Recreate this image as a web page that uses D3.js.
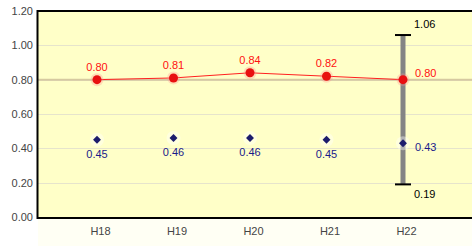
<!DOCTYPE html>
<html><head><meta charset="utf-8">
<script src="https://cdn.jsdelivr.net/npm/d3@7"></script>
<style>html,body{margin:0;padding:0;background:#fff;overflow:hidden}svg{display:block}text{font-family:Arial,"Liberation Sans",sans-serif}</style>
</head><body>
<script>
const categories = ["H18","H19","H20","H21","H22"];
const redValues = [0.80,0.81,0.84,0.82,0.80];
const blueValues = [0.45,0.46,0.46,0.45,0.43];
const yTicks = [0,0.2,0.4,0.6,0.8,1.0,1.2];
const rangeMax = 1.06, rangeMin = 0.19, rangeCat = "H22";
const refLine = 0.80;

const W=472,H=246;
const svg=d3.select("body").append("svg").attr("width",W).attr("height",H);
const x=d3.scalePoint().domain(categories).range([97,403]);
const y=d3.scaleLinear().domain([0,1.2]).range([217,11]);

svg.append("rect").attr("x",38).attr("y",219).attr("width",W-38).attr("height",H-219).attr("fill","#fffff4");
svg.append("rect").attr("x",38).attr("y",11).attr("width",W-38).attr("height",206).attr("fill","#ffffc8");

// gridlines
svg.selectAll("line.grid").data(yTicks.filter(d=>d>0&&d<1.2)).enter().append("line")
 .attr("x1",38).attr("x2",W).attr("y1",d=>Math.round(y(d))+0.5).attr("y2",d=>Math.round(y(d))+0.5)
 .attr("stroke","#e6e4cc").attr("stroke-width",1);
svg.append("line").attr("x1",38).attr("x2",W).attr("y1",y(refLine)).attr("y2",y(refLine))
 .attr("stroke","#d6c9a0").attr("stroke-width",2);

// y axis
const ya=svg.append("g").attr("transform","translate(37,0)")
 .call(d3.axisLeft(y).tickValues(yTicks).tickFormat(d3.format(".2f")).tickSize(0).tickPadding(4));
ya.select(".domain").remove();
ya.selectAll("text").attr("font-size",11).attr("fill","#444").attr("font-family","Arial,'Liberation Sans',sans-serif");

// x labels
const xa=svg.append("g").attr("transform","translate(3,219)")
 .call(d3.axisBottom(x).tickSize(0).tickPadding(8));
xa.select(".domain").remove();
xa.selectAll("text").attr("font-size",11).attr("fill","#444").attr("font-family","Arial,'Liberation Sans',sans-serif");

// frame
svg.append("line").attr("x1",37).attr("x2",W).attr("y1",11).attr("y2",11).attr("stroke","#000").attr("stroke-width",2);
svg.append("line").attr("x1",37).attr("x2",W).attr("y1",218).attr("y2",218).attr("stroke","#000").attr("stroke-width",2);
svg.append("line").attr("x1",37.5).attr("x2",37.5).attr("y1",10).attr("y2",219).attr("stroke","#000").attr("stroke-width",2);

// range bar
const rx=x(rangeCat);
svg.append("rect").attr("x",rx-2.5).attr("y",y(rangeMax)).attr("width",5).attr("height",y(rangeMin)-y(rangeMax)).attr("fill","#848484");
[rangeMax,rangeMin].forEach(v=>{
 svg.append("line").attr("x1",rx-8).attr("x2",rx+8).attr("y1",y(v)).attr("y2",y(v)).attr("stroke","#000").attr("stroke-width",2);
});
svg.append("text").attr("x",rx+11).attr("y",y(rangeMax)-7).attr("font-size",11).attr("fill","#000").text(rangeMax.toFixed(2));
svg.append("text").attr("x",rx+11).attr("y",y(rangeMin)+14).attr("font-size",11).attr("fill","#000").text(rangeMin.toFixed(2));

// red line
svg.append("path").datum(redValues).attr("fill","none").attr("stroke","#ff2020").attr("stroke-width",1)
 .attr("d",d3.line().x((d,i)=>x(categories[i])).y(d=>y(d)));
svg.selectAll("circle.halo").data(redValues).enter().append("circle")
 .attr("cx",(d,i)=>x(categories[i])).attr("cy",d=>y(d)).attr("r",6.5).attr("fill","#ff9090").attr("opacity",0.3);
svg.selectAll("circle.dot").data(redValues).enter().append("circle")
 .attr("cx",(d,i)=>x(categories[i])).attr("cy",d=>y(d)).attr("r",4.5).attr("fill","#e81010");
svg.selectAll("text.rl").data(redValues).enter().append("text")
 .attr("x",(d,i)=>i===categories.length-1?x(categories[i])+12:x(categories[i]))
 .attr("y",(d,i)=>i===categories.length-1?y(d)-3:y(d)-9)
 .attr("text-anchor",(d,i)=>i===categories.length-1?"start":"middle")
 .attr("font-size",11).attr("fill","#ff1010").text(d=>d.toFixed(2));

// blue diamonds
const diamond=d3.symbol().type(d3.symbolDiamond2).size(40);
svg.selectAll("path.bh").data(blueValues).enter().append("circle")
 .attr("cx",(d,i)=>x(categories[i])).attr("cy",d=>y(d)).attr("r",7).attr("fill","#ffffff").attr("opacity",0.4);
svg.selectAll("path.bd").data(blueValues).enter().append("path")
 .attr("d",diamond).attr("transform",(d,i)=>`translate(${x(categories[i])},${y(d)})`).attr("fill","#1c1c6c");
svg.selectAll("text.bl").data(blueValues).enter().append("text")
 .attr("x",(d,i)=>i===categories.length-1?x(categories[i])+12:x(categories[i]))
 .attr("y",(d,i)=>i===categories.length-1?y(d)+8:y(d)+18)
 .attr("text-anchor",(d,i)=>i===categories.length-1?"start":"middle")
 .attr("font-size",11).attr("fill","#1a1a8a").text(d=>d.toFixed(2));
</script>
</body></html>
